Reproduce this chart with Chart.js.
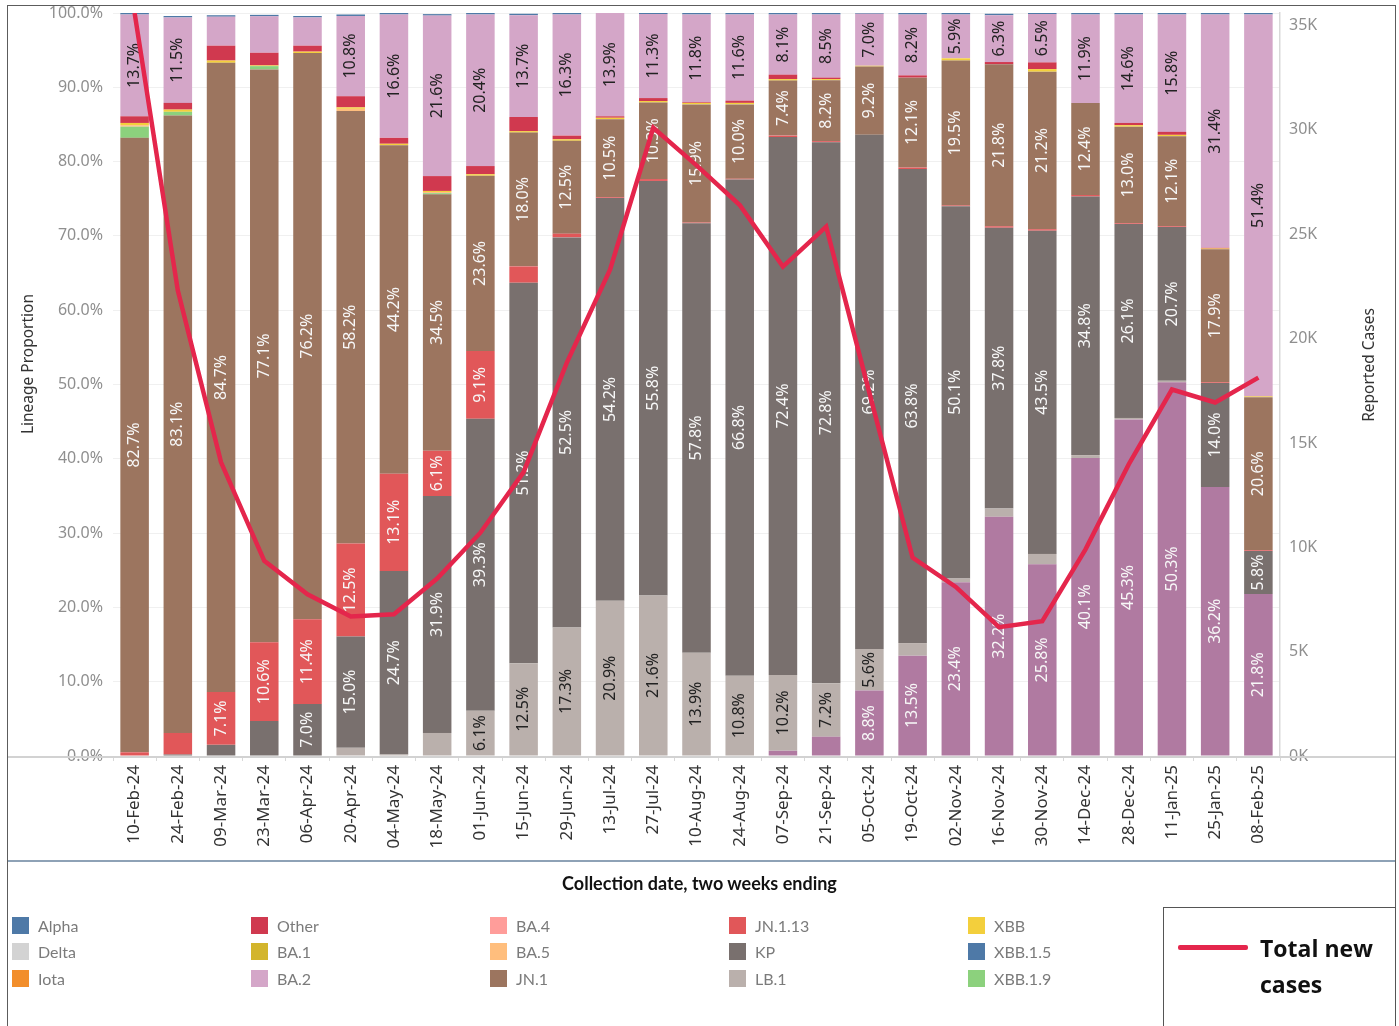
<!DOCTYPE html>
<html><head><meta charset="utf-8">
<script src="https://cdn.jsdelivr.net/npm/chart.js@4.4.1/dist/chart.umd.min.js"></script>
<style>
html,body{margin:0;padding:0;background:#fff;width:1399px;height:1026px;overflow:hidden;font-family:'Noto Sans',sans-serif;}
#wrap{position:relative;width:1399px;height:1026px;}
#c{position:absolute;left:0;top:0;}
.frame{position:absolute;left:7px;top:5px;width:1389px;height:1060px;border:1.5px solid #5c5c5c;box-sizing:border-box;pointer-events:none;}
.sep{position:absolute;left:7px;top:860px;width:1389px;height:1.5px;background:#8ea2b6;}
.xline{position:absolute;left:7px;top:756px;width:1389px;height:1.5px;background:#d2d2d2;}
.ytitle{position:absolute;font-family:'Noto Sans',sans-serif;font-size:15.5px;color:#333;white-space:nowrap;transform:translate(-50%,-50%) rotate(-90deg);}
.xtitle{position:absolute;left:0;width:1399px;top:872px;text-align:center;font-family:Lato,sans-serif;font-weight:700;font-size:18px;color:#111;}
#legend{position:absolute;left:12px;top:912px;display:grid;grid-template-columns:repeat(5,239px);grid-template-rows:repeat(3,26.5px);grid-auto-flow:column;}
.li{display:flex;align-items:center;font-family:Lato,sans-serif;font-size:16px;color:#7b7b7b;}
.sw{width:17px;height:17px;margin-right:9px;}
.casebox{position:absolute;left:1163px;top:907px;width:233px;height:140px;border:1.5px solid #555;box-sizing:border-box;}
.caseline{position:absolute;left:1178px;top:945px;width:70px;height:5px;background:#e4264c;border-radius:2px;}
.casetxt{position:absolute;left:1260px;top:930px;font-family:'Open Sans',sans-serif;font-weight:700;font-size:23px;line-height:36px;color:#111;}
</style></head>
<body><div id="wrap">
<canvas id="c" width="1399" height="860"></canvas>
<div class="xline"></div>
<div class="sep"></div>
<div class="frame"></div>
<div class="ytitle" style="left:27px;top:364px;">Lineage Proportion</div>
<div class="ytitle" style="left:1368px;top:365px;">Reported Cases</div>
<div class="xtitle">Collection date, two weeks ending</div>
<div id="legend"></div>
<div class="casebox"></div>
<div class="caseline"></div>
<div class="casetxt">Total new<br>cases</div>
</div>
<script>
const categories = ['10-Feb-24','24-Feb-24','09-Mar-24','23-Mar-24','06-Apr-24','20-Apr-24','04-May-24','18-May-24','01-Jun-24','15-Jun-24','29-Jun-24','13-Jul-24','27-Jul-24','10-Aug-24','24-Aug-24','07-Sep-24','21-Sep-24','05-Oct-24','19-Oct-24','02-Nov-24','16-Nov-24','30-Nov-24','14-Dec-24','28-Dec-24','11-Jan-25','25-Jan-25','08-Feb-25'];

// Lineage proportions (%), stacked bottom to top
const xecShare    = [0,0,0,0,0,0,0,0,0,0,0,0,0,0,0,0.7,2.6,8.8,13.5,23.4,32.2,25.8,40.1,45.3,50.3,36.2,21.8];
const lb1Share    = [0,0,0,0,0,1.1,0.2,3.1,6.1,12.5,17.3,20.9,21.6,13.9,10.8,10.2,7.2,5.6,1.7,0.5,1.1,1.4,0.4,0.2,0.2,0,0];
const kpShare     = [0,0.2,1.5,4.7,7.0,15.0,24.7,31.9,39.3,51.2,52.5,54.2,55.8,57.8,66.8,72.4,72.8,69.2,63.8,50.1,37.8,43.5,34.8,26.1,20.7,14.0,5.8];
const jn113Share  = [0.5,2.9,7.1,10.6,11.4,12.5,13.1,6.1,9.1,2.2,0.5,0.1,0.25,0.1,0.1,0.2,0.15,0,0.2,0.1,0.2,0.2,0.2,0.1,0.1,0.1,0.1];
const jn1Share    = [82.7,83.1,84.7,77.1,76.2,58.2,44.2,34.5,23.6,18.0,12.5,10.5,10.3,15.9,10.0,7.4,8.2,9.2,12.1,19.5,21.8,21.2,12.4,13.0,12.1,17.9,20.6];
const xbb19Share  = [1.5,0.5,0,0.45,0,0,0,0.15,0,0,0,0,0,0,0,0,0,0,0,0,0,0,0,0,0,0,0];
const ba5Share    = [0.2,0,0,0,0,0.3,0,0.15,0,0,0,0,0,0,0,0,0,0,0,0,0,0,0,0,0,0,0];
const xbbShare    = [0.3,0.3,0.3,0.1,0.2,0.2,0.2,0.15,0.2,0.2,0.2,0.2,0.2,0.2,0.2,0.2,0.15,0.1,0,0.3,0,0.35,0,0.2,0.2,0.1,0.1];
const otherShare  = [0.9,0.9,2.0,1.7,0.8,1.5,0.8,2.0,1.1,1.9,0.5,0.2,0.4,0.1,0.3,0.6,0.2,0,0.3,0,0.3,0.9,0,0.3,0.4,0.1,0];
const ba2Share    = [13.7,11.5,3.9,4.9,3.8,10.8,16.6,21.6,20.4,13.7,16.3,13.9,11.3,11.8,11.6,8.1,8.5,7.0,8.2,5.9,6.3,6.5,11.9,14.6,15.8,31.4,51.4];
const xbb15Share  = [0.2,0.2,0.2,0.2,0.2,0.2,0.2,0.2,0.2,0.2,0.2,0.2,0.2,0.2,0.2,0.2,0.2,0.2,0.2,0.2,0.2,0.2,0.2,0.2,0.2,0.2,0.2];

// Total new cases (reported)
const totalCases  = [35600,22300,14070,9350,7750,6680,6790,8500,10700,13600,18850,23300,30100,28300,26400,23450,25360,17400,9500,8100,6170,6460,9900,13970,17560,16940,18130];

const leftTicks  = [0,10,20,30,40,50,60,70,80,90,100];
const rightTicks = [0,5000,10000,15000,20000,25000,30000,35000];

const legendNames = ['Alpha','Delta','Iota','Other','BA.1','BA.2','BA.4','BA.5','JN.1','JN.1.13','KP','LB.1','XBB','XBB.1.5','XBB.1.9'];
const colors = {'XEC':'#b07aa1','LB.1':'#bab0ac','KP':'#79706e','JN.1.13':'#e15759','JN.1':'#9c755f','XBB.1.9':'#8cd17d','BA.5':'#ffbe7d','XBB':'#f3cf3c','Other':'#d0394f','BA.2':'#d4a6c8','XBB.1.5':'#4e79a7','Alpha':'#4e79a7','Delta':'#d3d3d3','Iota':'#f28e2b','BA.1':'#d3b52c','BA.4':'#ff9d9a'};
const lineColor = '#e4264c';

const barSeries = [
  ['XEC', xecShare, '#f7f7f7'],
  ['LB.1', lb1Share, '#222'],
  ['KP', kpShare, '#f7f7f7'],
  ['JN.1.13', jn113Share, '#f7f7f7'],
  ['JN.1', jn1Share, '#f7f7f7'],
  ['XBB.1.9', xbb19Share, '#222'],
  ['BA.5', ba5Share, '#222'],
  ['XBB', xbbShare, '#222'],
  ['Other', otherShare, '#f7f7f7'],
  ['BA.2', ba2Share, '#222'],
  ['XBB.1.5', xbb15Share, '#f7f7f7']
];

const datasets = barSeries.map(([name, data, lc]) => ({
  type:'bar', label:name, data:data, backgroundColor:colors[name],
  borderWidth:0, barPercentage:0.66, categoryPercentage:1.0,
  yAxisID:'y', stack:'s', order:1, labelColor:lc
}));
datasets.push({
  type:'line', label:'Total new cases', data:totalCases, yAxisID:'y1',
  borderColor:lineColor, borderWidth:4.5, pointRadius:0, tension:0, fill:false, order:0
});
const LINE_INDEX = datasets.length - 1;

const segLabels = {
  id:'segLabels',
  beforeDatasetDraw(chart, args){
    if (args.index !== LINE_INDEX) return;
    const ctx = chart.ctx;
    ctx.save();
    ctx.font = '16px "Noto Sans"';
    ctx.textAlign = 'center';
    ctx.textBaseline = 'middle';
    chart.data.datasets.forEach((ds, i) => {
      if (ds.type !== 'bar') return;
      const meta = chart.getDatasetMeta(i);
      meta.data.forEach((bar, j) => {
        const v = ds.data[j];
        if (v < 5) return;
        const cy = (bar.y + bar.base) / 2;
        ctx.save();
        ctx.translate(bar.x, cy);
        ctx.rotate(-Math.PI / 2);
        ctx.fillStyle = ds.labelColor;
        ctx.fillText(v.toFixed(1) + '%', 0, 0);
        ctx.restore();
      });
    });
    ctx.restore();
  }
};

function zeroPad(s){ s.paddingTop = 0; s.paddingBottom = 0; s.paddingLeft = 0; s.paddingRight = 0; }

new Chart(document.getElementById('c'), {
  data:{labels:categories, datasets:datasets},
  options:{
    responsive:false, animation:false, devicePixelRatio:1,
    layout:{padding:{top:13,left:0,right:0,bottom:0}},
    plugins:{legend:{display:false}, tooltip:{enabled:false}},
    scales:{
      x:{
        stacked:true, offset:true,
        grid:{display:true, drawOnChartArea:false, drawTicks:true, tickLength:5, color:'#d8d8d8', offset:true},
        border:{display:false},
        ticks:{maxRotation:90, minRotation:90, autoSkip:false, padding:4, color:'#333', font:{family:'Noto Sans', size:17}},
        afterFit(s){ s.height = 104; zeroPad(s); }
      },
      y:{
        stacked:true, position:'left', min:0, max:100,
        afterBuildTicks(s){ s.ticks = leftTicks.map(v => ({value:v})); },
        ticks:{padding:10, color:'#8f8f8f', font:{family:'Noto Sans', size:16}, callback:v => v.toFixed(1) + '%'},
        grid:{color:'#f0f0f0', drawTicks:false, lineWidth:1},
        border:{display:false},
        afterFit(s){ s.width = 113; zeroPad(s); }
      },
      y1:{
        position:'right', min:0, max:35600, stacked:false,
        afterBuildTicks(s){ s.ticks = rightTicks.map(v => ({value:v})); },
        ticks:{padding:9, color:'#8f8f8f', font:{family:'Noto Sans', size:16}, callback:v => (v/1000) + 'K'},
        grid:{display:false, drawTicks:false},
        border:{display:true, color:'#d9d9d9', width:1.5},
        afterFit(s){ s.width = 119; zeroPad(s); }
      }
    }
  },
  plugins:[segLabels]
});

// HTML legend built from names/colors
const lg = document.getElementById('legend');
legendNames.forEach(n => {
  const d = document.createElement('div'); d.className = 'li';
  const s = document.createElement('span'); s.className = 'sw'; s.style.background = colors[n];
  const t = document.createElement('span'); t.textContent = n;
  d.appendChild(s); d.appendChild(t); lg.appendChild(d);
});
</script>
</body></html>
